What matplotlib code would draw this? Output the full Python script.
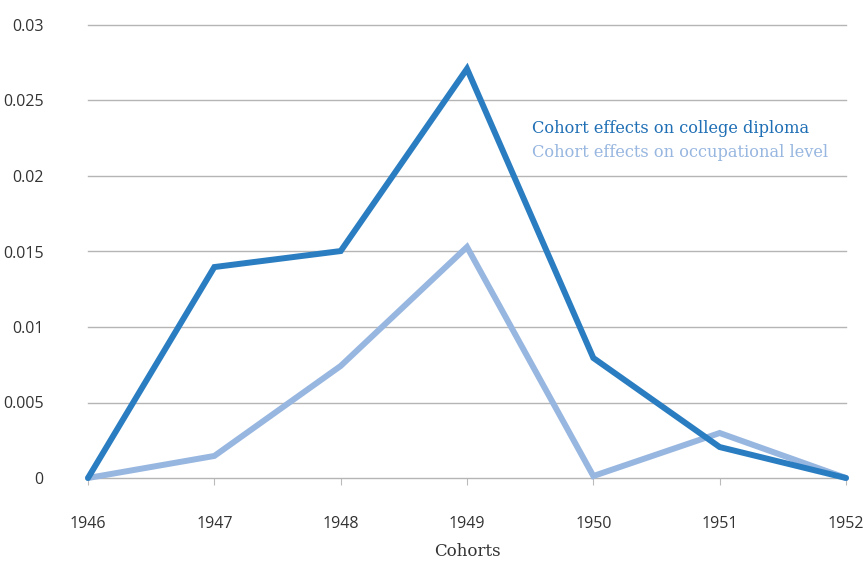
import matplotlib.pyplot as plt

cohorts = [1946, 1947, 1948, 1949, 1950, 1951, 1952]
college = [0.0, 0.01397, 0.01503, 0.0271, 0.00795, 0.00205, 0.0]
occupational = [0.0, 0.00146, 0.00742, 0.0153, 0.00013, 0.00298, 0.0]
y_ticks = [0, 0.005, 0.01, 0.015, 0.02, 0.025, 0.03]
y_labels = ["0", "0.005", "0.01", "0.015", "0.02", "0.025", "0.03"]

dark = "#2a7dc1"
light = "#97b6e0"

fig = plt.figure(figsize=(8.63, 5.61), dpi=100)
ax = fig.add_axes([88 / 863, 83 / 561, 758 / 863, 453 / 561])

ax.plot(cohorts, occupational, color=light, linewidth=4.3, solid_capstyle="round",
        solid_joinstyle="miter", clip_on=False, zorder=3)
ax.plot(cohorts, college, color=dark, linewidth=4.3, solid_capstyle="round",
        solid_joinstyle="miter", clip_on=False, zorder=4)

ax.set_xlim(1946, 1952)
ax.set_ylim(0, 0.03)
ax.set_xticks(cohorts)
ax.set_xticklabels([str(c) for c in cohorts], fontfamily="Open Sans", fontsize=11.5, color="#333333")
ax.set_yticks(y_ticks)
ax.set_yticklabels(y_labels, fontfamily="Open Sans", fontsize=11.5, color="#333333")
ax.tick_params(axis="y", length=0, pad=32)
ax.tick_params(axis="x", length=5, color="#bbbbbb", pad=22)
ax.grid(axis="y", color="#b5b5b5", linewidth=1)
for g in ax.yaxis.get_gridlines():
    g.set_clip_on(False)
ax.set_axisbelow(True)
for s in ax.spines.values():
    s.set_visible(False)

# x axis title sits well below the tick labels
fig.text(467 / 863, 1 - 552 / 561, "Cohorts", ha="center", va="center",
         fontfamily="DejaVu Serif", fontsize=12, color="#333333")

ax.text(0.586, 0.772, "Cohort effects on college diploma", transform=ax.transAxes,
        fontfamily="DejaVu Serif", fontsize=11.7, color="#1f6fb5", va="center")
ax.text(0.586, 0.719, "Cohort effects on occupational level", transform=ax.transAxes,
        fontfamily="DejaVu Serif", fontsize=11.7, color=light, va="center")

fig.savefig("out.png", dpi=100)
